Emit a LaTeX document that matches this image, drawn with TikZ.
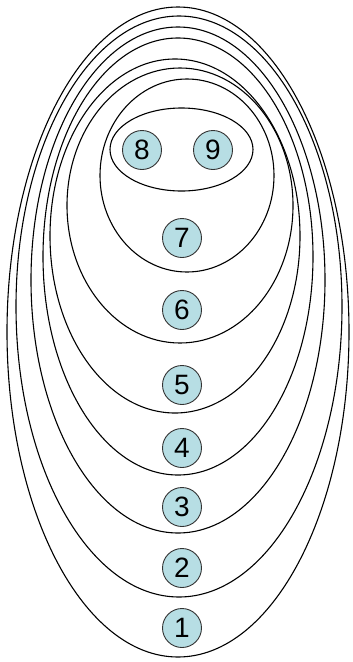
\documentclass[tikz,border=0pt]{standalone}
\usepackage{fontspec}
\setmainfont{Liberation Sans}
\usepackage{tikz}
\definecolor{PaleTeal}{RGB}{183,222,228}

\begin{document}
\begin{tikzpicture}[x=1pt,y=-1pt,
  ring/.style={line width=1.1pt},
  num/.style={draw=black!80,line width=0.9pt,circle,fill=PaleTeal,minimum size=39pt,inner sep=0pt,font=\fontsize{28}{28}\selectfont}]
\useasboundingbox (0,0) rectangle (353,662);
% nested sets, outside in
\draw[ring] (178,332) ellipse (171 and 325);
\draw[ring] (179,306.5) ellipse (163 and 290.5);
\draw[ring] (178,280) ellipse (147 and 253);
\draw[ring] (178,256.5) ellipse (135 and 218.5);
\draw[ring] (175,236) ellipse (125 and 177);
\draw[ring] (180,205.5) ellipse (113 and 137.5);
\draw[ring] (187,175.5) ellipse (87 and 96.5);
\draw[ring] (181.5,149.5) ellipse (71.5 and 41.5);
% members
\node[num] (n1) at (182,628) {1};
\node[num] (n2) at (182,568) {2};
\node[num] (n3) at (182,507) {3};
\node[num] (n4) at (182,448) {4};
\node[num] (n5) at (182,385) {5};
\node[num] (n6) at (182,310) {6};
\node[num] (n7) at (182,238) {7};
\node[num] (n8) at (142,150) {8};
\node[num] (n9) at (213,150) {9};
\end{tikzpicture}
\end{document}
